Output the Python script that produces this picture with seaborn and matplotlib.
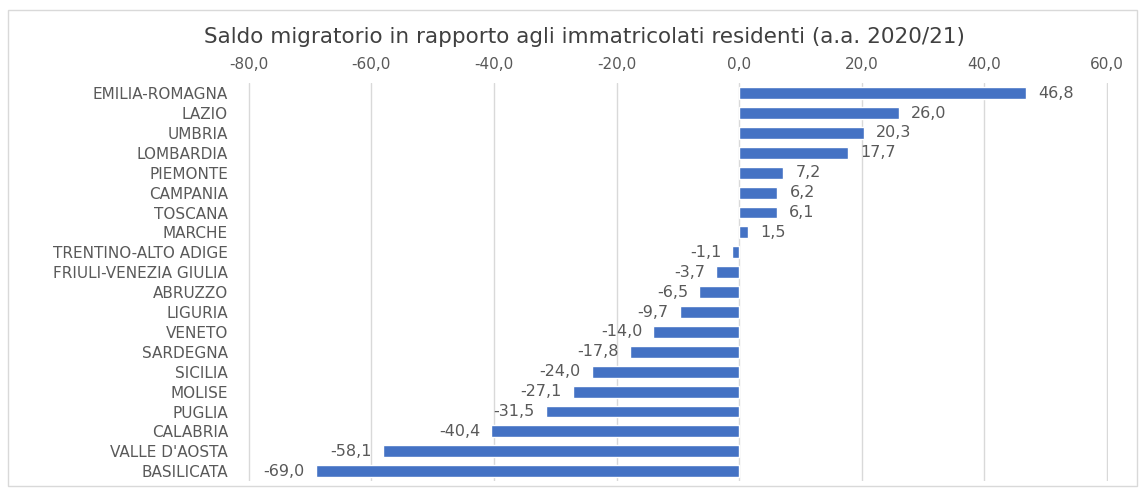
import matplotlib
matplotlib.use("Agg")
import matplotlib.pyplot as plt
import matplotlib.patches as mpatches
import seaborn as sns
import pandas as pd

regions = ["EMILIA-ROMAGNA", "LAZIO", "UMBRIA", "LOMBARDIA", "PIEMONTE",
           "CAMPANIA", "TOSCANA", "MARCHE", "TRENTINO-ALTO ADIGE",
           "FRIULI-VENEZIA GIULIA", "ABRUZZO", "LIGURIA", "VENETO",
           "SARDEGNA", "SICILIA", "MOLISE", "PUGLIA", "CALABRIA",
           "VALLE D'AOSTA", "BASILICATA"]
saldo = [46.8, 26.0, 20.3, 17.7, 7.2, 6.2, 6.1, 1.5, -1.1, -3.7, -6.5,
         -9.7, -14.0, -17.8, -24.0, -27.1, -31.5, -40.4, -58.1, -69.0]
xticks = [-80, -60, -40, -20, 0, 20, 40, 60]

sns.set_style("white")
plt.rcParams['font.family'] = ['DejaVu Sans']
txt = '#595959'

df = pd.DataFrame({"regione": regions, "saldo": saldo})

fig = plt.figure(figsize=(11.45, 4.92), dpi=100)
ax = fig.add_axes([0.216, 0.022, 0.752, 0.809])

sns.barplot(data=df, x="saldo", y="regione", orient="h", color="#4472C4",
            saturation=1, width=0.6, ax=ax, zorder=3)

ax.set_xlim(-80.2, 60.2)
ax.set_xticks(xticks)
ax.set_xticklabels([f"{v:.1f}".replace(".", ",") for v in xticks])
ax.xaxis.tick_top()
ax.tick_params(axis='x', length=0, pad=8, labelsize=11, labelcolor=txt)
ax.tick_params(axis='y', length=0, pad=14, labelsize=11, labelcolor=txt)
ax.grid(axis='x', color='#d9d9d9', linewidth=1, zorder=0)
ax.set_axisbelow(True)
for s in ax.spines.values():
    s.set_visible(False)
ax.set_xlabel("")
ax.set_ylabel("")

for i, v in enumerate(saldo):
    lab = f"{v:.1f}".replace(".", ",")
    if v >= 0:
        ax.text(v + 2.0, i, lab, va='center', ha='left', fontsize=11.5, color=txt)
    else:
        ax.text(v - 1.8, i, lab, va='center', ha='right', fontsize=11.5, color=txt)

fig.text(0.51, 0.925, "Saldo migratorio in rapporto agli immatricolati residenti (a.a. 2020/21)",
         ha='center', va='center', fontsize=15.5, color='#404040')

border = mpatches.Rectangle((0.007, 0.012), 0.986, 0.968, transform=fig.transFigure,
                            fill=False, edgecolor='#d9d9d9', linewidth=1)
fig.patches.append(border)

plt.savefig("out.png", dpi=100)
